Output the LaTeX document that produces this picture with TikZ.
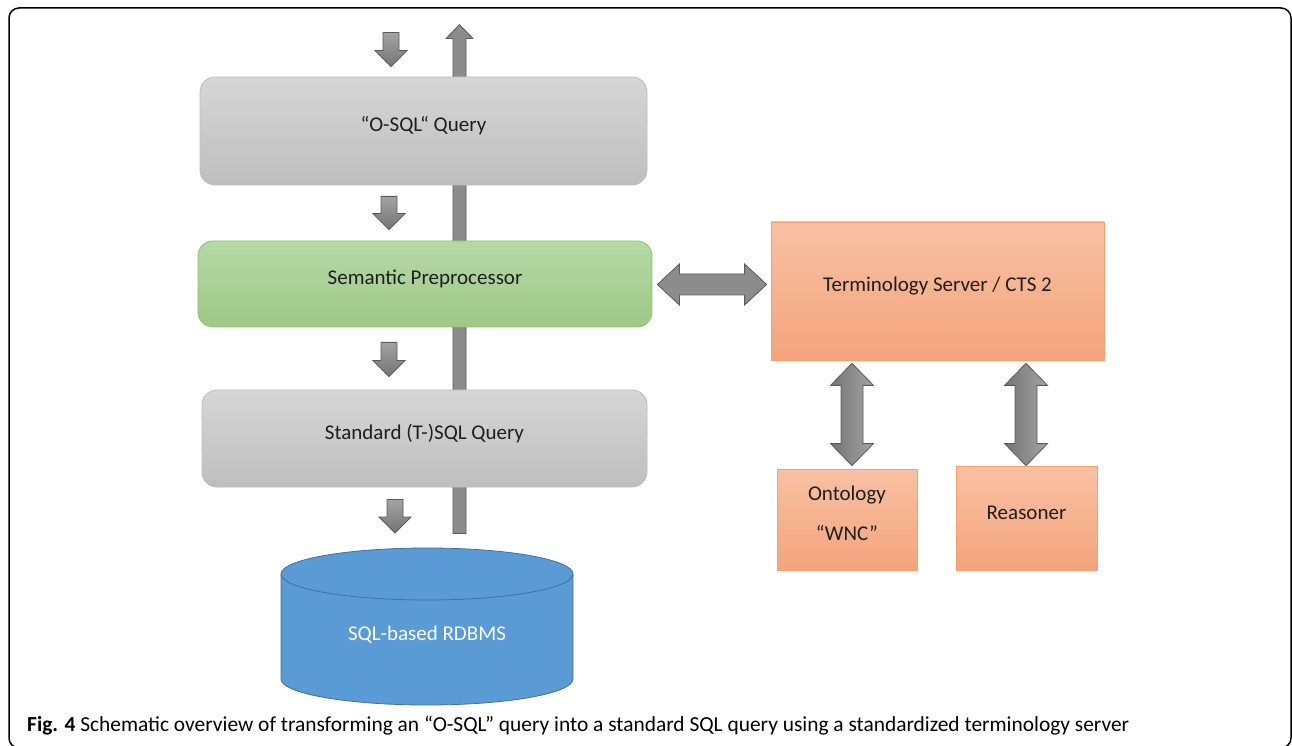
\documentclass[tikz,border=0pt]{standalone}
\usepackage{fontspec}
\setmainfont{Carlito}
\usetikzlibrary{calc}
\pgfdeclarelayer{back}
\pgfdeclarelayer{bg}
\pgfsetlayers{back,bg,main}
\definecolor{grayT}{HTML}{D6D6D6}
\definecolor{grayB}{HTML}{BEBEBE}
\definecolor{grayE}{HTML}{BDBDBD}
\definecolor{greenT}{HTML}{B6D8A6}
\definecolor{greenB}{HTML}{9DC986}
\definecolor{greenE}{HTML}{8DC26F}
\definecolor{orT}{HTML}{F8C1A3}
\definecolor{orB}{HTML}{F4A47C}
\definecolor{orE}{HTML}{F5A06E}
\definecolor{dbF}{HTML}{5B9BD5}
\definecolor{dbE}{HTML}{41719C}
\definecolor{arF}{HTML}{8C8C8C}
\definecolor{arD}{HTML}{747474}
\definecolor{arL}{HTML}{A4A4A4}
\definecolor{arE}{HTML}{5A5A5A}
\definecolor{txt}{HTML}{1E1E1E}
\tikzset{
  lbl/.style={text=txt, font=\fontsize{21}{25}\selectfont, text height=12pt, text depth=10pt},
  graybox/.style={lbl, rounded corners=15pt, draw=grayE, line width=0.8pt, top color=grayT, bottom color=grayB},
  greenbox/.style={lbl, rounded corners=15pt, draw=greenE, line width=0.8pt, top color=greenT, bottom color=greenB},
  orbox/.style={lbl, draw=orE, line width=0.8pt, top color=orT, bottom color=orB, align=center},
  blockarrow/.style={draw=arE, line width=0.8pt, fill=arF},
  blockv/.style={draw=arE, line width=0.8pt, left color=arD, right color=arL},
  blockd/.style={draw=arE, line width=0.8pt, top color=arF!80!white, bottom color=arD},
  frame/.style={draw=black, line width=1.5pt, rounded corners=10pt},
}
% vertical single arrow pointing down: #1 top centre, #2 tip
\newcommand{\vdown}[5]{%
  \path[blockd] let \p1=(#1), \p2=(#2) in
  (\x1-#3,\y1) -- (\x1+#3,\y1) -- (\x1+#3,\y2+#5) -- (\x1+#4,\y2+#5) -- (\x1,\y2)
  -- (\x1-#4,\y2+#5) -- (\x1-#3,\y2+#5) -- cycle;}
% vertical single arrow pointing up: #1 bottom centre, #2 tip
\newcommand{\vup}[5]{%
  \path[blockarrow] let \p1=(#1), \p2=(#2) in
  (\x1-#3,\y1) -- (\x1+#3,\y1) -- (\x1+#3,\y2-#5) -- (\x1+#4,\y2-#5) -- (\x1,\y2)
  -- (\x1-#4,\y2-#5) -- (\x1-#3,\y2-#5) -- cycle;}
% vertical double arrow: #1 top tip, #2 bottom tip
\newcommand{\vdouble}[5]{%
  \path[blockv] let \p1=(#1), \p2=(#2) in
  (\x1,\y1) -- (\x1+#4,\y1-#5) -- (\x1+#3,\y1-#5) -- (\x1+#3,\y2+#5) -- (\x1+#4,\y2+#5)
  -- (\x1,\y2) -- (\x1-#4,\y2+#5) -- (\x1-#3,\y2+#5) -- (\x1-#3,\y1-#5) -- (\x1-#4,\y1-#5) -- cycle;}
% horizontal double arrow: #1 left tip, #2 right tip
\newcommand{\hdouble}[5]{%
  \path[blockarrow] let \p1=(#1), \p2=(#2) in
  (\x1,\y1) -- (\x1+#5,\y1+#4) -- (\x1+#5,\y1+#3) -- (\x2-#5,\y1+#3) -- (\x2-#5,\y1+#4)
  -- (\x2,\y1) -- (\x2-#5,\y1-#4) -- (\x2-#5,\y1-#3) -- (\x1+#5,\y1-#3) -- (\x1+#5,\y1-#4) -- cycle;}
\begin{document}
\begin{tikzpicture}[x=1pt,y=1pt]
\useasboundingbox (0,0) rectangle (1292,745);
\begin{pgfonlayer}{back}
\fill[white] (0,0) rectangle (1292,745);
\end{pgfonlayer}
\draw[frame] (9,-3) rectangle (1291,737);

% left column
\node[graybox, minimum width=447pt, minimum height=108pt] (osql) at (423.5,614) {“O-SQL“ Query};
\node[greenbox, minimum width=454pt, minimum height=86pt] (sp) at (425,461) {Semantic Preprocessor};
\node[graybox, minimum width=445pt, minimum height=97pt] (tsql) at (424.5,306.5) {Standard (T-)SQL Query};

% database cylinder
\path[fill=dbF, draw=dbE, line width=0.8pt] (281,171) -- (281,66)
  arc[start angle=180, end angle=360, x radius=146, y radius=26] -- (573,171)
  arc[start angle=0, end angle=180, x radius=146, y radius=26] -- cycle;
\draw[dbE, line width=0.8pt] (281,171) arc[start angle=180, end angle=360, x radius=146, y radius=26];
\coordinate (dbtop) at (427,197);
\node[lbl, text=white] (db) at (427,106) {SQL-based RDBMS};

% right column
\node[orbox, minimum width=333pt, minimum height=138pt] (ts) at (937.5,454) {Terminology Server / CTS 2};
\node[orbox, minimum width=140pt, minimum height=101pt, font=\fontsize{21}{40}\selectfont,
      text height=52pt, text depth=10pt] (ont) at (847,225.5) {Ontology\\“WNC”};
\node[orbox, minimum width=141pt, minimum height=104pt] (rea) at (1026.5,227) {Reasoner};

% long up arrow behind the boxes
\begin{pgfonlayer}{bg}
\vup{$(tsql.south)+(35,-46)$}{$(osql.north)+(36,52)$}{6.5}{13.5}{14}
\end{pgfonlayer}

% down arrows
\vdown{$(osql.north)+(-32.5,44)$}{$(osql.north)+(-32.5,10)$}{8}{16}{16}
\vdown{$(osql.south)+(-34.5,-11)$}{$(sp.north)+(-36,11)$}{8}{16}{16}
\vdown{$(sp.south)+(-36,-15)$}{$(tsql.north)+(-35.5,13)$}{8}{16}{16}
\vdown{$(tsql.south)+(-29.5,-12)$}{$(dbtop)+(-32,15)$}{8}{16}{16}

% double arrows
\hdouble{$(sp.east)+(5,-0.5)$}{$(ts.west)+(-4,0)$}{10.5}{20.5}{22}
\vdouble{$(ts.south)+(-85.5,-3)$}{$(ont.north)+(5,3)$}{11}{21.5}{22}
\vdouble{$(ts.south)+(88.5,-3)$}{$(rea.north)+(0,0)$}{11}{21.5}{22}

% caption
\node[anchor=base west, inner sep=0pt, text=black, font=\fontsize{21.4}{25}\selectfont] (cap) at (27,14)
  {\textbf{Fig. 4} Schematic overview of transforming an “O-SQL” query into a standard SQL query using a standardized terminology server};
\end{tikzpicture}
\end{document}
